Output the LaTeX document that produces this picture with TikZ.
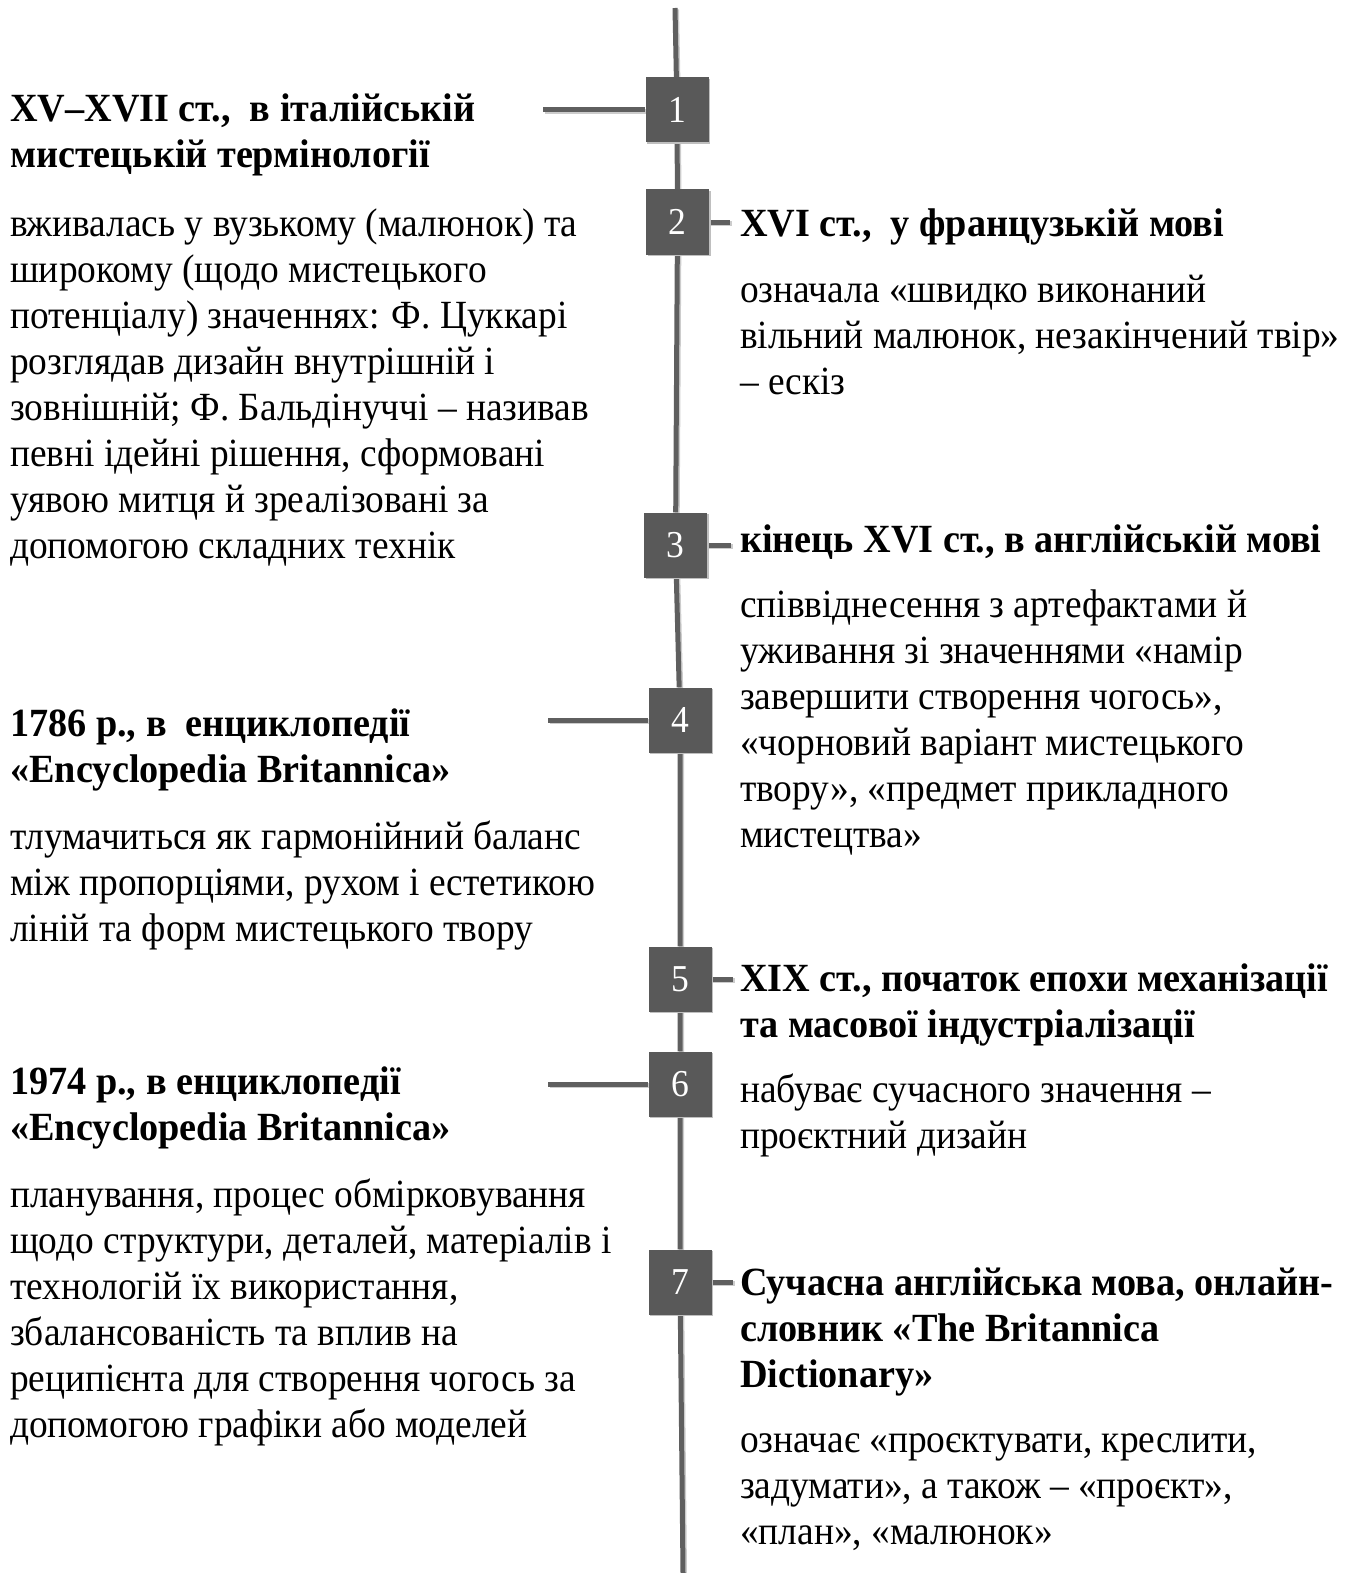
\documentclass[tikz,border=0pt]{standalone}
\usepackage{fontspec}
\setmainfont{Liberation Serif}[UprightFeatures={FakeStretch=0.935}, BoldFeatures={FakeStretch=0.955}]
\definecolor{boxgray}{RGB}{89,89,89}
\definecolor{linegray}{RGB}{95,95,95}
\tikzset{
  tl/.style={anchor=base west, inner sep=0pt, font=\fontsize{40}{46}\selectfont\bfseries},
  bd/.style={anchor=base west, inner sep=0pt, font=\fontsize{40}{46}\selectfont},
  num/.style={fill=boxgray, minimum width=63pt, minimum height=65pt, inner sep=0pt,
    text=white, font=\fontsize{38}{38}\selectfont},
  numshadow/.style={num, fill=black!25, text=black!25},
  axisline/.style={draw=linegray, line width=5pt},
  shadowline/.style={draw=black!20, line width=5pt, transform canvas={xshift=1.5pt, yshift=-1.5pt}},
}
\begin{document}
\begin{tikzpicture}[x=1pt,y=1pt]
\useasboundingbox (0,0) rectangle (1354,-1573);
% timeline coordinates
\coordinate (top) at (675,-8);
\coordinate (bot) at (683,-1573);
% boxes (placeholders for connections)
\node[num] (n1) at (677,-110) {1};
\node[num] (n2) at (677.5,-222) {2};
\node[num] (n3) at (675.5,-545) {3};
\node[num] (n4) at (680,-720) {4};
\node[num] (n5) at (680,-979) {5};
\node[num] (n6) at (680,-1084) {6};
\node[num] (n7) at (680,-1282) {7};
% connector end points
\coordinate (c1) at (543,-110);
\coordinate (c2) at (730,-222);
\coordinate (c3) at (731,-545);
\coordinate (c4) at (548,-720);
\coordinate (c5) at (733,-979);
\coordinate (c6) at (548,-1084);
\coordinate (c7) at (733,-1282);
% shadows
\path[shadowline] (top) -- (n1) (n1) -- (n2) (n2) -- (n3) (n3) -- (n4) (n4) -- (n5) (n5) -- (n6) (n6) -- (n7) (n7) -- (bot);
\path[shadowline] (c1) -- (n1) (n2) -- (c2) (n3) -- (c3) (c4) -- (n4) (n5) -- (c5) (c6) -- (n6) (n7) -- (c7);
% main line and connectors
\path[axisline] (top) -- (n1) (n1) -- (n2) (n2) -- (n3) (n3) -- (n4) (n4) -- (n5) (n5) -- (n6) (n6) -- (n7) (n7) -- (bot);
\path[axisline] (c1) -- (n1) (n2) -- (c2) (n3) -- (c3) (c4) -- (n4) (n5) -- (c5) (c6) -- (n6) (n7) -- (c7);
% box shadows and boxes drawn above lines
\foreach \k in {1,...,7} {
  \node[numshadow] at ([xshift=1.5pt,yshift=-1.5pt]n\k) {\k};
  \node[num] at (n\k) {\k};
}

% ---- Block 1 (left)
\foreach \t [count=\i] in {{XV–XVII ст.,\ \ в італійській}, {мистецькій термінології}}
  \node[tl] (t1-\i) at (10,{-122-46*(\i-1)}) {\t};
\foreach \t [count=\i] in {{вживалась у вузькому (малюнок) та}, {широкому (щодо мистецького}, {потенціалу) значеннях: Ф. Цуккарі}, {розглядав дизайн внутрішній і}, {зовнішній; Ф. Бальдінуччі – називав}, {певні ідейні рішення, сформовані}, {уявою митця й зреалізовані за}, {допомогою складних технік}}
  \node[bd] (b1-\i) at (10,{-236-46*(\i-1)}) {\t};

% ---- Block 2 (right)
\node[tl] (t2-1) at (740,-236) {XVI ст.,\ \ у французькій мові};
\foreach \t [count=\i] in {{означала «швидко виконаний}, {вільний малюнок, незакінчений твір»}, {– ескіз}}
  \node[bd] (b2-\i) at (740,{-302-46*(\i-1)}) {\t};

% ---- Block 3 (right)
\node[tl] (t3-1) at (740,-552) {кінець XVI ст., в англійській мові};
\foreach \t [count=\i] in {{співвіднесення з артефактами й}, {уживання зі значеннями «намір}, {завершити створення чогось»,}, {«чорновий варіант мистецького}, {твору», «предмет прикладного}, {мистецтва»}}
  \node[bd] (b3-\i) at (740,{-617-46*(\i-1)}) {\t};

% ---- Block 4 (left)
\foreach \t [count=\i] in {{1786 р., в\ \ енциклопедії}, {«Encyclopedia Britannica»}}
  \node[tl] (t4-\i) at (10,{-736-46*(\i-1)}) {\t};
\foreach \t [count=\i] in {{тлумачиться як гармонійний баланс}, {між пропорціями, рухом і естетикою}, {ліній та форм мистецького твору}}
  \node[bd] (b4-\i) at (10,{-849-46*(\i-1)}) {\t};

% ---- Block 5 (right)
\foreach \t [count=\i] in {{XIX ст., початок епохи механізації}, {та масової індустріалізації}}
  \node[tl] (t5-\i) at (740,{-991-46*(\i-1)}) {\t};
\foreach \t [count=\i] in {{набуває сучасного значення –}, {проєктний дизайн}}
  \node[bd] (b5-\i) at (740,{-1102-46*(\i-1)}) {\t};

% ---- Block 6 (left)
\foreach \t [count=\i] in {{1974 р., в енциклопедії}, {«Encyclopedia Britannica»}}
  \node[tl] (t6-\i) at (10,{-1094-46*(\i-1)}) {\t};
\foreach \t [count=\i] in {{планування, процес обмірковування}, {щодо структури, деталей, матеріалів і}, {технологій їх використання,}, {збалансованість та вплив на}, {реципієнта для створення чогось за}, {допомогою графіки або моделей}}
  \node[bd] (b6-\i) at (10,{-1207-46*(\i-1)}) {\t};

% ---- Block 7 (right)
\foreach \t [count=\i] in {{Сучасна англійська мова, онлайн-}, {словник «The Britannica}, {Dictionary»}}
  \node[tl] (t7-\i) at (740,{-1295-46*(\i-1)}) {\t};
\foreach \t [count=\i] in {{означає «проєктувати, креслити,}, {задумати», а також – «проєкт»,}, {«план», «малюнок»}}
  \node[bd] (b7-\i) at (740,{-1452-46*(\i-1)}) {\t};
\end{tikzpicture}
\end{document}
